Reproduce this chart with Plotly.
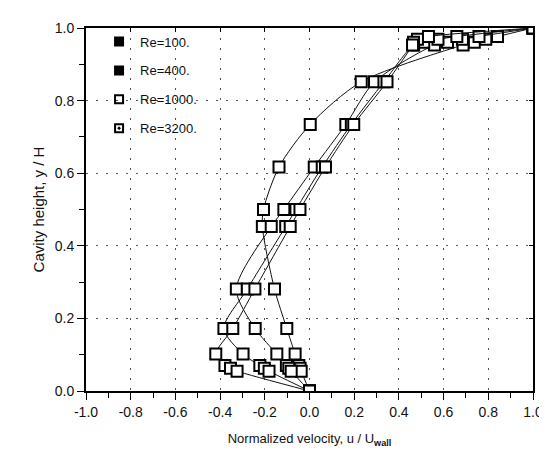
import plotly.graph_objects as go

y_pos = [1.0, 0.9766, 0.9688, 0.9609, 0.9531, 0.8516, 0.7344, 0.6172, 0.5,
         0.4531, 0.2813, 0.1719, 0.1016, 0.0703, 0.0625, 0.0547, 0.0]
u_re100 = [1.0, 0.84123, 0.78871, 0.73722, 0.68717, 0.23151, 0.00332, -0.13641,
           -0.20581, -0.21090, -0.15662, -0.10150, -0.06434, -0.04775, -0.04192, -0.03717, 0.0]
u_re400 = [1.0, 0.75837, 0.68439, 0.61756, 0.55892, 0.29093, 0.16256, 0.02135,
           -0.11477, -0.17119, -0.32726, -0.24299, -0.14612, -0.10338, -0.09266, -0.08186, 0.0]
u_re1000 = [1.0, 0.65928, 0.57492, 0.51117, 0.46604, 0.33304, 0.18719, 0.05702,
            -0.06080, -0.10648, -0.27805, -0.38289, -0.29730, -0.22220, -0.20196, -0.18109, 0.0]
u_re3200 = [1.0, 0.53236, 0.48296, 0.46547, 0.46101, 0.34682, 0.19791, 0.07156,
            -0.04272, -0.08636, -0.24427, -0.34323, -0.41933, -0.37827, -0.35344, -0.32407, 0.0]
series_names = ["Re=100.", "Re=400.", "Re=1000.", "Re=3200."]
x_ticks = [-1.0, -0.8, -0.6, -0.4, -0.2, 0.0, 0.2, 0.4, 0.6, 0.8, 1.0]
y_ticks = [0.0, 0.2, 0.4, 0.6, 0.8, 1.0]

series = [u_re100, u_re400, u_re1000, u_re3200]
legend_symbols = ["square", "square", "square-open", "square-open-dot"]

fig = go.Figure()
for u in series:
    fig.add_trace(go.Scatter(
        x=u, y=y_pos, mode="lines+markers", showlegend=False,
        line=dict(color="#111", width=1, shape="spline", smoothing=0.8),
        marker=dict(symbol="square", size=11, color="white",
                    line=dict(color="black", width=2)),
    ))
for i, (name, sym) in enumerate(zip(series_names, legend_symbols)):
    fig.add_trace(go.Scatter(
        x=[None], y=[None], mode="markers", name=name, legendgroup=f"g{i}",
        marker=dict(symbol=sym, size=8, color="black",
                    line=dict(color="black", width=2)),
    ))
# invisible trace for the mirrored top/right axes
fig.add_trace(go.Scatter(x=[0], y=[0], xaxis="x2", yaxis="y2", mode="markers",
                         marker=dict(opacity=0), showlegend=False, hoverinfo="skip"))

font = "Liberation Sans, Arial, sans-serif"
grid = dict(showgrid=True, gridcolor="#555", griddash="2px,8px", gridwidth=1)
fig.update_layout(
    width=547, height=457,
    margin=dict(l=78, r=13, t=20, b=74),
    plot_bgcolor="white", paper_bgcolor="white",
    font=dict(family=font, size=14, color="#111"),
    xaxis=dict(range=[-1, 1], tickvals=x_ticks, ticktext=[f"{v:.1f}" for v in x_ticks],
               ticks="outside", ticklen=7, tickwidth=1, tickcolor="black",
               minor=dict(dtick=0.1, ticks="outside", ticklen=5, tickcolor="black", showgrid=False),
               showline=True, linecolor="black", linewidth=2, mirror=True,
               zeroline=False, tickfont=dict(size=14),
               title=dict(text="Normalized velocity, u / U<sub><b>wall</b></sub>",
                          font=dict(size=13), standoff=15),
               **grid),
    yaxis=dict(range=[0, 1], tickvals=y_ticks, ticktext=[f"{v:.1f}" for v in y_ticks],
               ticks="outside", ticklen=7, tickwidth=1, tickcolor="black",
               minor=dict(dtick=0.1, ticks="outside", ticklen=5, tickcolor="black", showgrid=False),
               showline=True, linecolor="black", linewidth=2, mirror=True,
               zeroline=False, tickfont=dict(size=14),
               title=dict(text="Cavity height, y / H", font=dict(size=15), standoff=6),
               **grid),
    xaxis2=dict(overlaying="x", side="top", range=[-1, 1], tickvals=x_ticks,
                ticks="inside", ticklen=4, tickcolor="black", showticklabels=False,
                showgrid=False, zeroline=False, showline=False),
    yaxis2=dict(overlaying="y", side="right", range=[0, 1], tickvals=y_ticks,
                ticks="inside", ticklen=4, tickcolor="black", showticklabels=False,
                showgrid=False, zeroline=False, showline=False),
    legend=dict(x=0.027, y=1.004, xanchor="left", yanchor="top",
                bgcolor="rgba(0,0,0,0)", font=dict(size=13, color="#111"),
                tracegroupgap=9, itemwidth=32),
)
fig.write_html("out.html")
